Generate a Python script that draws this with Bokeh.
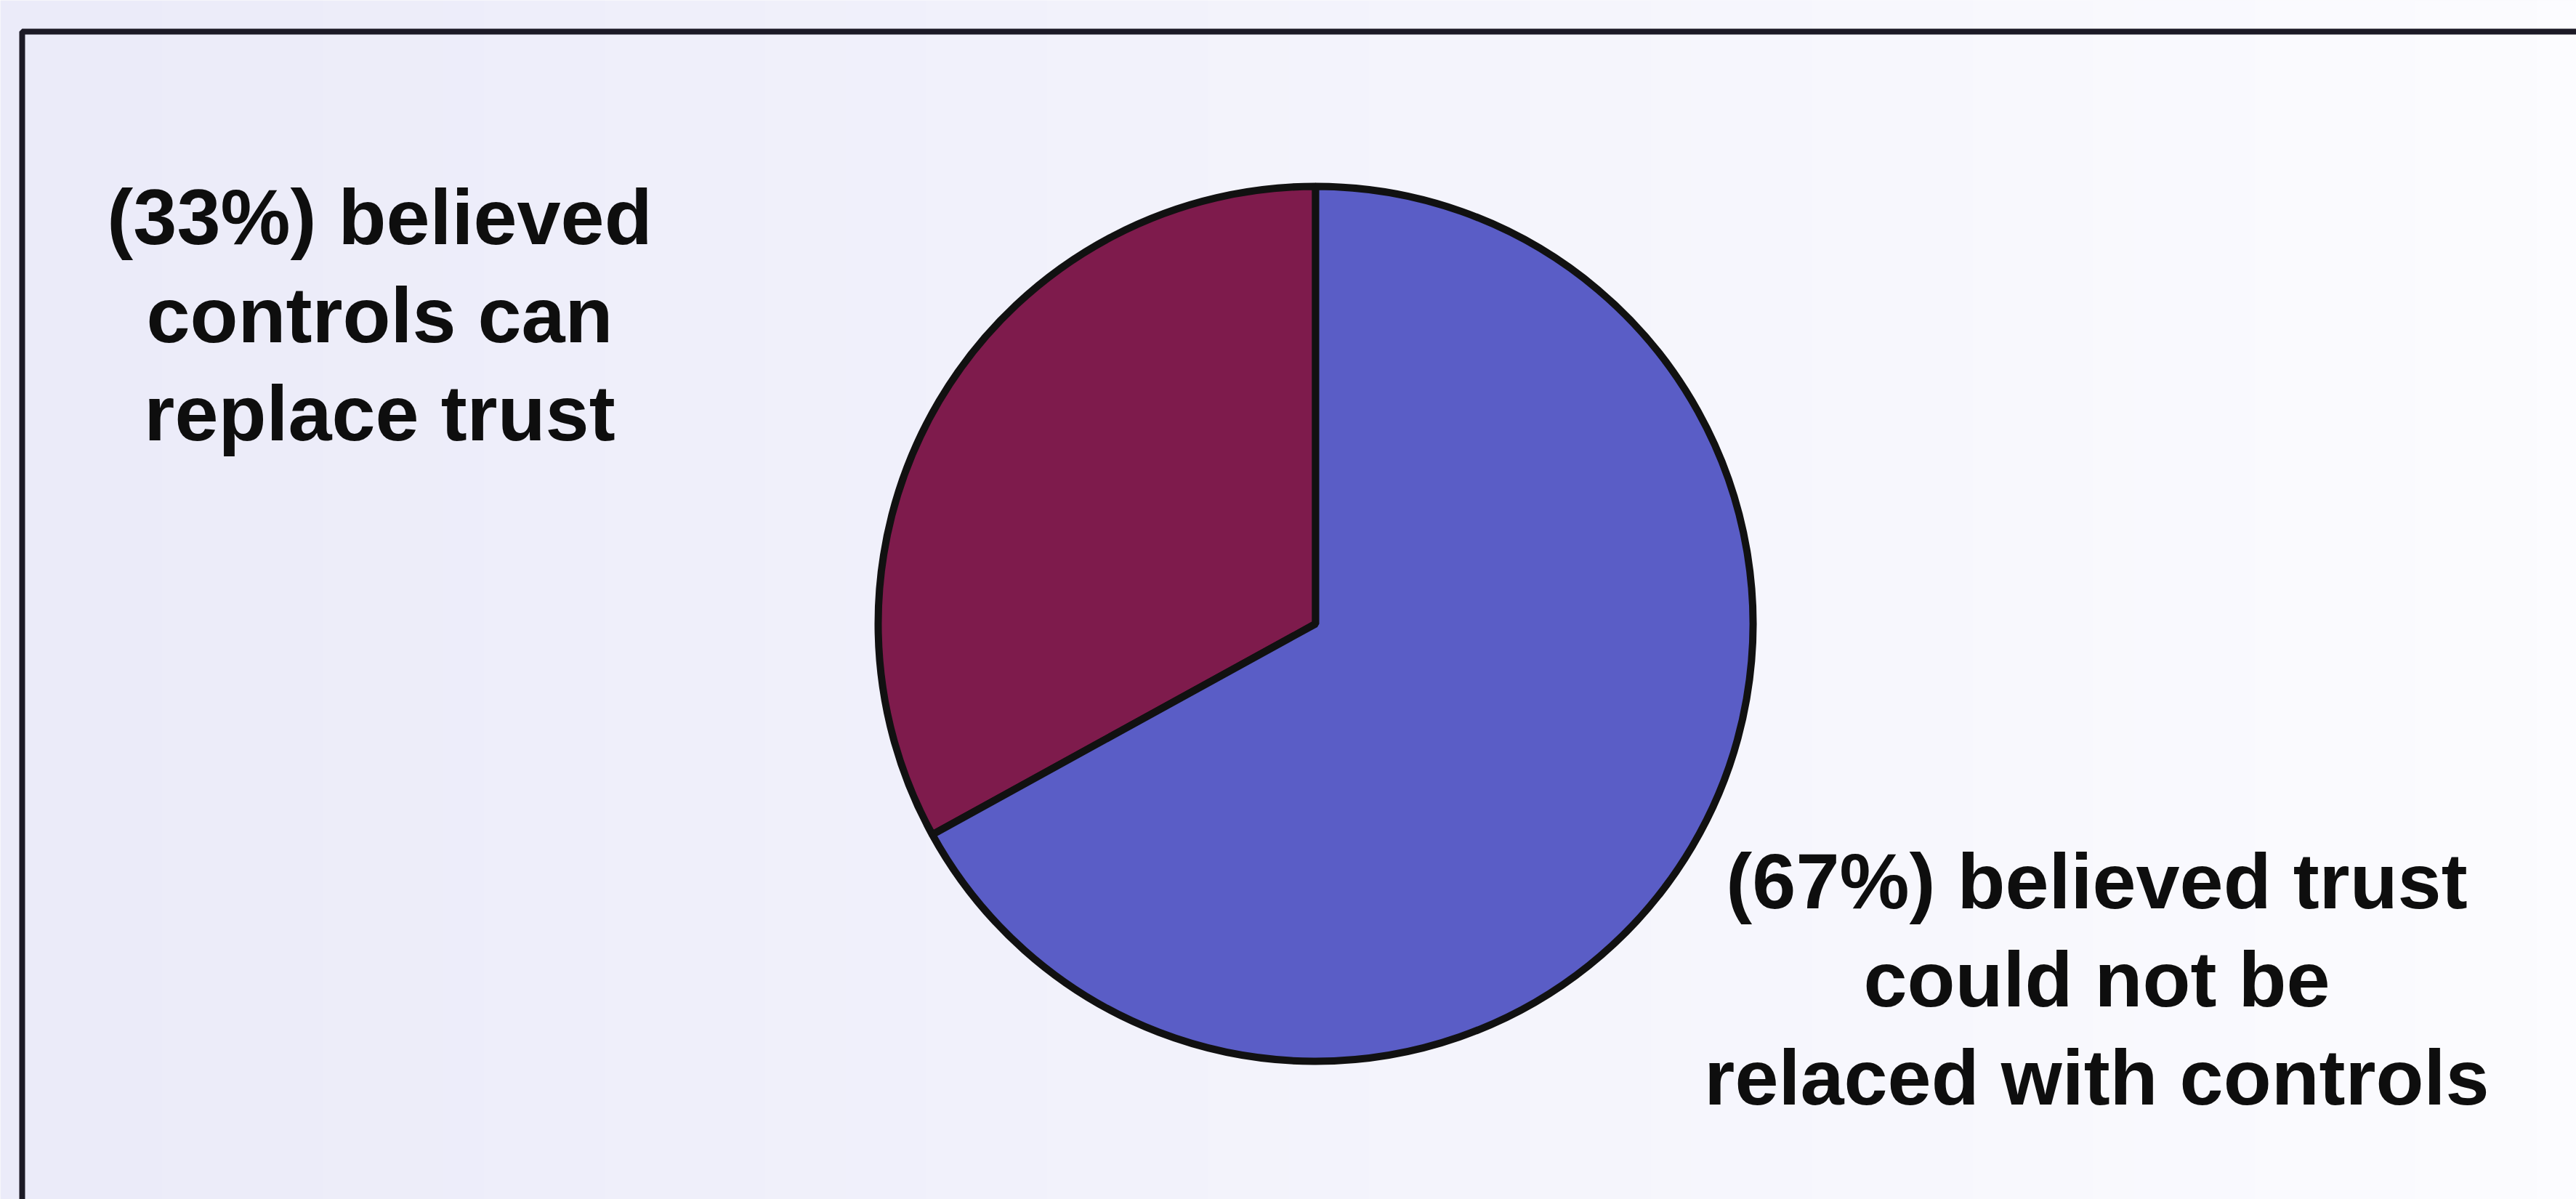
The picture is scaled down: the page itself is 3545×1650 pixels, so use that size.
import numpy as np
from bokeh.plotting import figure
from bokeh.models import Range1d
from bokeh.core.properties import value
from bokeh.embed import file_html
from bokeh.resources import INLINE

# Survey result: can controls replace trust?
categories = ["Controls can replace trust", "Trust could not be replaced"]
shares = [33, 67]
slice_colors = ["#7E1B4C", "#5A5DC6"]
label_lines = [
    ["(33%) believed", "controls can", "replace trust"],
    ["(67%) believed trust", "could not be", "relaced with controls"],
]

W, H = 3545, 1650

p = figure(width=W, height=H, x_range=Range1d(0, W), y_range=Range1d(0, H),
           output_backend="svg", toolbar_location=None, min_border=0)
p.axis.visible = False
p.grid.visible = False
p.outline_line_color = None
p.background_fill_color = "#F6F6FC"
p.border_fill_color = "#F6F6FC"

# soft lavender-to-white page wash
nx = 64
t = np.linspace(0, 1, nx)
r = (235 + (252 - 235) * t).astype(np.uint32)
g = (235 + (252 - 235) * t).astype(np.uint32)
b = (249 + (255 - 249) * t).astype(np.uint32)
row = (255 << 24) | (b << 16) | (g << 8) | r
img = np.tile(row, (2, 1)).astype(np.uint32)
p.image_rgba(image=[img], x=0, y=0, dw=W, dh=H)

# frame (top and left edges)
frame_x, frame_top = 30, H - 43
p.line(x=[frame_x, frame_x, W + 10], y=[-10, frame_top, frame_top],
       line_color="#1C1A26", line_width=8)

# pie
cx, cy, rad = 1810, H - 858, 602
frac = np.array(shares, dtype=float) / sum(shares)
ends = np.pi / 2 + 2 * np.pi * np.cumsum(frac)
starts = np.concatenate([[np.pi / 2], ends[:-1]])
p.wedge(x=cx, y=cy, radius=rad, start_angle=starts, end_angle=ends,
        direction="anticlock", fill_color=slice_colors,
        line_color="#111111", line_width=10)

# slice labels
font = value("Liberation Sans")
label_pos = [(522, H - 298), (2885, H - 1212)]
step = 135
for (lx, ly), lines in zip(label_pos, label_lines):
    p.text(x=[lx] * len(lines), y=[ly - i * step for i in range(len(lines))],
           text=lines, text_font=font, text_font_size="108px",
           text_font_style="bold", text_color="#0E0E0E",
           text_align="center", text_baseline="alphabetic")

open("out.html", "w").write(file_html(p, INLINE))
